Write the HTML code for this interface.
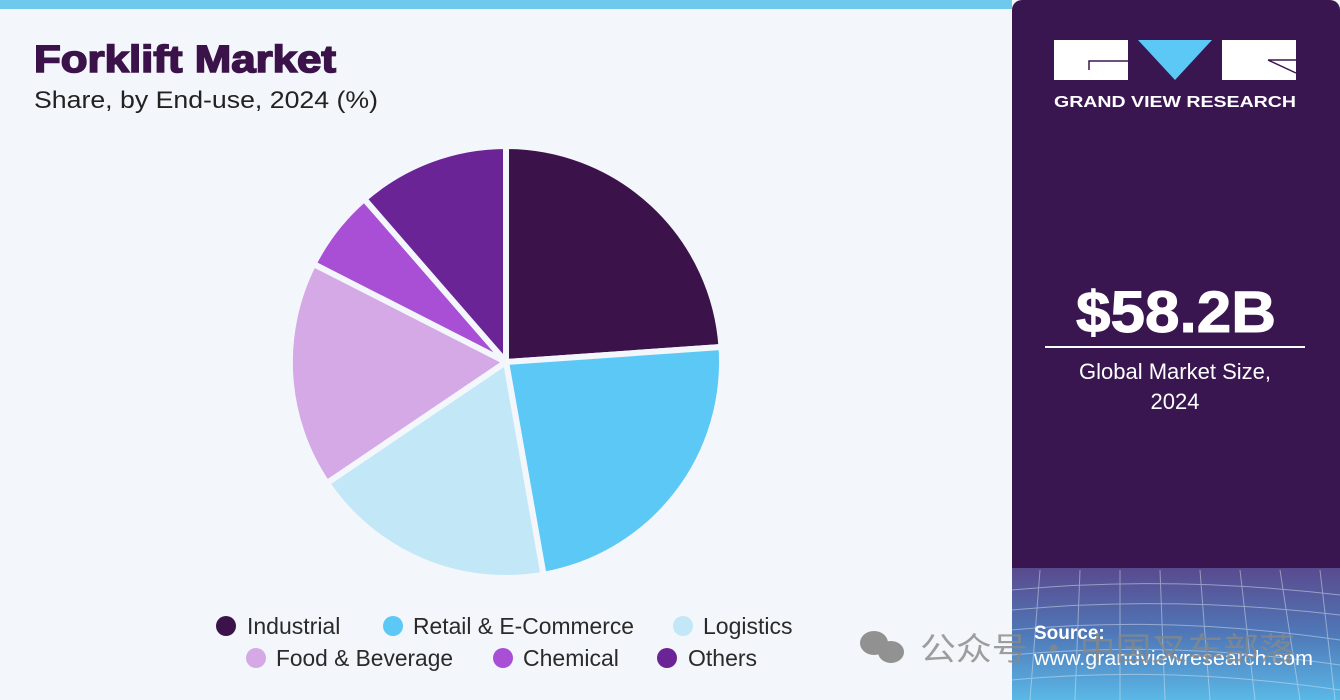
<!DOCTYPE html>
<html><head><meta charset="utf-8"><style>
body{margin:0;width:1340px;height:700px;overflow:hidden;background:#fff;font-family:"Liberation Sans","Noto Sans CJK SC",sans-serif;}
</style></head><body>
<svg width="1340" height="700" xmlns="http://www.w3.org/2000/svg" style="position:absolute;left:0;top:0">
<defs>
<linearGradient id="g" x1="0" y1="0" x2="0" y2="1">
<stop offset="0" stop-color="#5a4a8e"/><stop offset="0.5" stop-color="#4f78b8"/><stop offset="1" stop-color="#5ab8e6"/>
</linearGradient>
</defs>
<rect x="0" y="0" width="1340" height="700" fill="#f3f6fa"/>
<rect x="0" y="0" width="1012" height="9" fill="#6ec9ec"/>
<rect x="1012" y="0" width="328" height="700" rx="10" fill="#3a1650"/>
<rect x="1012" y="568" width="328" height="132" fill="url(#g)"/>
<g stroke="#d8e4f0" stroke-width="1" fill="none" opacity="0.5">
<path d="M1012 590 Q1170 575 1340 595"/><path d="M1012 610 Q1170 595 1340 615"/><path d="M1012 630 Q1170 615 1340 640"/><path d="M1012 655 Q1170 640 1340 665"/><path d="M1012 680 Q1170 665 1340 690"/>
<path d="M1040 570 L1030 700"/><path d="M1080 570 L1075 700"/><path d="M1120 570 L1120 700"/><path d="M1160 570 L1165 700"/><path d="M1200 570 L1210 700"/><path d="M1240 570 L1255 700"/><path d="M1280 570 L1300 700"/><path d="M1320 570 L1335 700"/>
</g>
<text x="34" y="72" font-family="Liberation Sans" font-weight="bold" font-size="38" fill="#3b1249" stroke="#3b1249" stroke-width="1.6" textLength="302" lengthAdjust="spacingAndGlyphs">Forklift Market</text>
<text x="34" y="108" font-family="Liberation Sans" font-size="24" fill="#222" textLength="344" lengthAdjust="spacingAndGlyphs">Share, by End-use, 2024 (%)</text>
<g stroke="#f3f6fa" stroke-width="6" stroke-linejoin="miter">
<path d="M506 362 L506 146 A216 216 0 0 1 721.5 347 Z" fill="#3b1249"/>
<path d="M506 362 L721.5 347 A216 216 0 0 1 543.5 574.7 Z" fill="#5bc8f5"/>
<path d="M506 362 L543.5 574.7 A216 216 0 0 1 326.9 483.1 Z" fill="#c2e8f8"/>
<path d="M506 362 L326.9 483.1 A216 216 0 0 1 313.5 263.9 Z" fill="#d4a9e6"/>
<path d="M506 362 L313.5 263.9 A216 216 0 0 1 364.3 199 Z" fill="#a94fd6"/>
<path d="M506 362 L364.3 199 A216 216 0 0 1 506 146 Z" fill="#6a2496"/>
</g>
<g font-family="Liberation Sans" font-size="23" fill="#2a2a2a">
<circle cx="226" cy="626" r="10" fill="#3b1249"/><text x="247" y="634">Industrial</text>
<circle cx="393" cy="626" r="10" fill="#5bc8f5"/><text x="413" y="634" textLength="221" lengthAdjust="spacingAndGlyphs">Retail &amp; E-Commerce</text>
<circle cx="683" cy="626" r="10" fill="#c2e8f8"/><text x="703" y="634">Logistics</text>
<circle cx="256" cy="658" r="10" fill="#d4a9e6"/><text x="276" y="666" textLength="177" lengthAdjust="spacingAndGlyphs">Food &amp; Beverage</text>
<circle cx="503" cy="658" r="10" fill="#a94fd6"/><text x="523" y="666">Chemical</text>
<circle cx="667" cy="658" r="10" fill="#6a2496"/><text x="688" y="666">Others</text>
</g>
<rect x="1054" y="40" width="74" height="40" fill="#fff"/>
<path d="M1138 40 L1212 40 L1175 80 Z" fill="#5bc8f5"/>
<rect x="1222" y="40" width="74" height="40" fill="#fff"/>
<path d="M1089 70 L1089 61 L1128 61" stroke="#3a1650" stroke-width="1.5" fill="none"/>
<path d="M1268 60 L1296 60 M1268 60 L1296 73" stroke="#3a1650" stroke-width="1.5" fill="none"/>
<text x="1054" y="107" font-family="Liberation Sans" font-weight="bold" font-size="16" fill="#fff" textLength="242" lengthAdjust="spacingAndGlyphs">GRAND VIEW RESEARCH</text>
<text x="1076" y="332" font-family="Liberation Sans" font-weight="bold" font-size="58" fill="#fff" stroke="#fff" stroke-width="1" textLength="200" lengthAdjust="spacingAndGlyphs">$58.2B</text>
<rect x="1045" y="346" width="260" height="2" fill="#fff"/>
<text x="1175" y="379" text-anchor="middle" font-family="Liberation Sans" font-size="22" fill="#fff">Global Market Size,</text>
<text x="1175" y="409" text-anchor="middle" font-family="Liberation Sans" font-size="22" fill="#fff">2024</text>
<text x="1034" y="639" font-family="Liberation Sans" font-weight="bold" font-size="19" fill="#fff">Source:</text>
<text x="1034" y="665" font-family="Liberation Sans" font-size="20" fill="#fff" textLength="279" lengthAdjust="spacingAndGlyphs">www.grandviewresearch.com</text>
<g fill="#808080" opacity="0.85">
<ellipse cx="874" cy="643" rx="14" ry="12"/><ellipse cx="891" cy="652" rx="13" ry="11"/>
</g>
<text x="920" y="660" font-family="Noto Sans CJK SC,sans-serif" font-size="32" fill="#888" opacity="0.8" textLength="375" lengthAdjust="spacingAndGlyphs">公众号 · 中国叉车部落</text>
</svg>
</body></html>
